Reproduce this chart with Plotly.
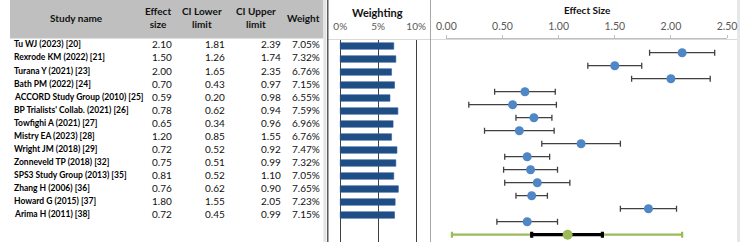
import plotly.graph_objects as go

# ---------------- data ----------------
studies = ["Tu WJ (2023) [20]", "Rexrode KM (2022) [21]", "Turana Y (2021) [23]",
           "Bath PM (2022) [24]", "ACCORD Study Group (2010) [25]",
           "BP Trialists' Collab. (2021) [26]", "Towfighi A (2021) [27]",
           "Mistry EA (2023) [28]", "Wright JM (2018) [29]", "Zonneveld TP (2018) [32]",
           "SPS3 Study Group (2013) [35]", "Zhang H (2006) [36]", "Howard G (2015) [37]",
           "Arima H (2011) [38]"]
effect = [2.10, 1.50, 2.00, 0.70, 0.59, 0.78, 0.65, 1.20, 0.72, 0.75, 0.81, 0.76, 1.80, 0.72]
ci_lower = [1.81, 1.26, 1.65, 0.43, 0.20, 0.62, 0.34, 0.85, 0.52, 0.51, 0.52, 0.62, 1.55, 0.45]
ci_upper = [2.39, 1.74, 2.35, 0.97, 0.98, 0.94, 0.96, 1.55, 0.92, 0.99, 1.10, 0.90, 2.05, 0.99]
weights = [7.05, 7.32, 6.76, 7.15, 6.55, 7.59, 6.96, 6.76, 7.47, 7.32, 7.05, 7.65, 7.23, 7.15]
pooled = [1.08]
pooled_lower = [0.76]
pooled_upper = [1.39]
pi_lower = [0.05]
pi_upper = [2.10]
weight_ticks = [0, 5, 10]
effect_ticks = [0, 0.5, 1.0, 1.5, 2.0, 2.5]

# ---------------- layout helpers ----------------
W, H = 750, 242
FONT = "Lato"
rows = list(range(len(studies)))
summary_row = [len(studies)]


def ydom(top, bottom):
    return [1 - bottom / H, 1 - top / H]


def yrng(p0, step, top, bottom):
    return [(bottom - p0) / step, (top - p0) / step]


def xrng(p0, ppu, left, right):
    return [(left - p0) / ppu, (right - p0) / ppu]


fig = go.Figure()

# weighting bars
fig.add_trace(go.Bar(x=weights, y=rows, orientation="h", width=0.5,
                     marker=dict(color="#1F4E85", line=dict(color="#2B5C9A", width=0.6)),
                     xaxis="x2", yaxis="y2", hoverinfo="skip"))

# effect sizes with CIs
fig.add_trace(go.Scatter(
    x=effect, y=rows, mode="markers", xaxis="x3", yaxis="y3",
    marker=dict(size=9, color="#4E86C6"),
    error_x=dict(type="data", symmetric=False,
                 array=[u - e for u, e in zip(ci_upper, effect)],
                 arrayminus=[e - l for e, l in zip(effect, ci_lower)],
                 color="#404040", thickness=1.3, width=3)))

# summary: prediction interval (green) and CI (black)
fig.add_trace(go.Scatter(
    x=pooled, y=summary_row, mode="markers", xaxis="x3", yaxis="y3",
    marker=dict(size=1, color="rgba(0,0,0,0)"),
    error_x=dict(type="data", symmetric=False,
                 array=[pi_upper[0] - pooled[0]], arrayminus=[pooled[0] - pi_lower[0]],
                 color="#9BBB59", thickness=2.2, width=3)))
fig.add_trace(go.Scatter(
    x=pooled, y=summary_row, mode="markers", xaxis="x3", yaxis="y3",
    marker=dict(size=10, color="#9BBB59"),
    error_x=dict(type="data", symmetric=False,
                 array=[pooled_upper[0] - pooled[0]], arrayminus=[pooled[0] - pooled_lower[0]],
                 color="#000000", thickness=3.2, width=3)))

annotations = []
# table body
for i, name in enumerate(studies):
    annotations.append(dict(x=2, y=i, xref="x", yref="y", text=name, showarrow=False,
                            xanchor="left", yanchor="middle",
                            font=dict(family=FONT, size=8.5, color="#000000", weight="bold")))
    for xr, val in ((168, f"{effect[i]:.2f}"), (223, f"{ci_lower[i]:.2f}"),
                    (280, f"{ci_upper[i]:.2f}"), (321, f"{weights[i]:.2f}%")):
        annotations.append(dict(x=xr, y=i, xref="x", yref="y", text=val, showarrow=False,
                                xanchor="right", yanchor="middle",
                                font=dict(family=FONT, size=10, color="#111111")))

# header
hdr_font = dict(family=FONT, size=10, color="#111111", weight="bold")
for xc, txt in ((68, "Study name"), (152, "Effect<br>size"), (197, "CI Lower<br>limit"),
                (253, "CI Upper<br>limit"), (302, "Weight")):
    annotations.append(dict(x=xc / W, y=1 - 17.5 / H, xref="paper", yref="paper", text=txt,
                            showarrow=False, xanchor="center", yanchor="middle",
                            font=hdr_font, align="center"))
annotations.append(dict(x=378 / W, y=1 - 12 / H, xref="paper", yref="paper", text="Weighting",
                        showarrow=False, xanchor="center", yanchor="middle",
                        font=dict(family=FONT, size=11, color="#111111", weight="bold")))
annotations.append(dict(x=593 / W, y=1 - 10 / H, xref="paper", yref="paper", text="Effect Size",
                        showarrow=False, xanchor="center", yanchor="middle",
                        font=dict(family=FONT, size=10, color="#111111", weight="bold")))

shapes = [
    dict(type="rect", xref="paper", yref="paper", x0=0, x1=322 / W, y0=1 - 38.5 / H, y1=1,
         fillcolor="#BFBFBF", line=dict(width=0), layer="below"),
    dict(type="rect", xref="paper", yref="paper", x0=322 / W, x1=325 / W, y0=0, y1=1,
         fillcolor="#E3E3E3", line=dict(width=0), layer="below"),
    dict(type="line", xref="paper", yref="paper", x0=326.5 / W, x1=326.5 / W, y0=0, y1=1,
         line=dict(color="#404040", width=1.3)),
    dict(type="line", xref="paper", yref="paper", x0=432 / W, x1=432 / W, y0=0, y1=1,
         line=dict(color="#A6A6A6", width=1)),
    dict(type="line", xref="paper", yref="paper", x0=326 / W, x1=748 / W,
         y0=1 - 39.5 / H, y1=1 - 39.5 / H, line=dict(color="#D9D9D9", width=1), layer="below"),
    dict(type="rect", xref="paper", yref="paper", x0=747 / W, x1=750 / W, y0=0, y1=1,
         fillcolor="#E6E6E6", line=dict(width=0), layer="below"),
]

fig.update_layout(
    width=W, height=H, margin=dict(l=0, r=0, t=0, b=0),
    paper_bgcolor="white", plot_bgcolor="rgba(0,0,0,0)", showlegend=False,
    font=dict(family=FONT, size=10, color="#595959"),
    annotations=annotations, shapes=shapes,
    xaxis=dict(domain=[0, 322 / W], range=[0, 322], visible=False, fixedrange=True),
    yaxis=dict(domain=[0, 1], range=yrng(44.4, 13.07, 0, 242), visible=False),
    xaxis2=dict(domain=[330 / W, 425 / W], range=xrng(339.3, 7.8, 330, 425), anchor="y2",
                side="top", tickvals=weight_ticks, ticktext=[f"{t}%" for t in weight_ticks],
                showgrid=True, gridcolor="#404040", gridwidth=1.2, zeroline=False,
                showline=False, ticks="", tickfont=dict(family=FONT, size=10, color="#595959"),
                ticklabelstandoff=7),
    yaxis2=dict(domain=ydom(40, 242), range=yrng(46.0, 13.0, 40, 242), anchor="x2",
                visible=False),
    xaxis3=dict(domain=[448.3 / W, 736.7 / W], range=[0, 2.5], anchor="y3", side="top",
                tickvals=effect_ticks, tickformat=".2f", showgrid=False, zeroline=False,
                showline=True, linecolor="#BFBFBF", linewidth=1, ticks="outside",
                ticklen=3, tickcolor="#BFBFBF",
                tickfont=dict(family=FONT, size=10.5, color="#595959"), ticklabelstandoff=1),
    yaxis3=dict(domain=ydom(39, 242), range=yrng(52.7, 13.0, 39, 242), anchor="x3",
                visible=False),
)

fig.write_html("out.html")
